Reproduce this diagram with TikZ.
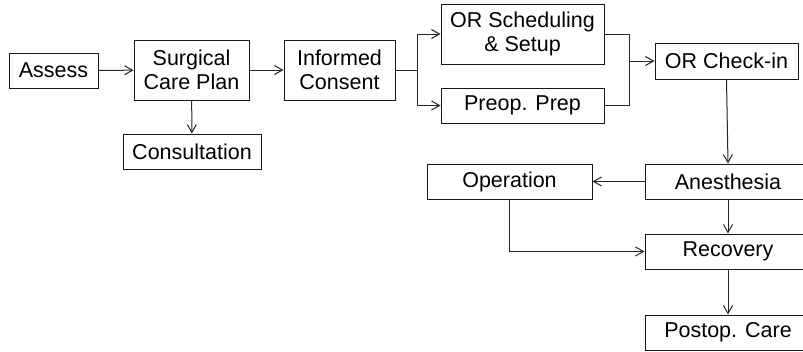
\documentclass[tikz,border=0pt]{standalone}
\usepackage{fontspec}
\setmainfont{Liberation Sans}
\usetikzlibrary{arrows.meta}
\begin{document}
\begin{tikzpicture}[x=1pt,y=-1pt,
  box/.style={draw=black!90,line width=1pt,inner sep=0pt,align=center,
    font=\fontsize{21.5}{23.5}\selectfont},
  conn/.style={draw=black!85,line width=1pt,-{Straight Barb[length=8pt,width=9pt,line width=1pt]}},
  wire/.style={draw=black!85,line width=1pt}]
\useasboundingbox (0,0) rectangle (803,351);
\clip (0,0) rectangle (803,351);
\fill[white] (0,0) rectangle (803,351);
\node[box,minimum width=89pt,minimum height=35pt] (assess) at (53.5,70.5) {Assess};
\node[box,minimum width=115pt,minimum height=60pt] (plan) at (191.5,70) {Surgical\\Care Plan};
\node[box,minimum width=138pt,minimum height=35pt] (consult) at (192,151.5) {Consultation};
\node[box,minimum width=111pt,minimum height=60pt] (consent) at (339.5,70) {Informed\\Consent};
\node[box,minimum width=163pt,minimum height=60pt] (sched) at (522.5,34) {OR Scheduling\\\& Setup};
\node[box,minimum width=163pt,minimum height=35pt] (preop) at (522.5,105.5) {Preop. Prep};
\node[box,minimum width=143pt,minimum height=36pt] (check) at (726.5,61) {OR Check-in};
\node[box,minimum width=166pt,minimum height=35pt] (anes) at (728,181.5) {Anesthesia};
\node[box,minimum width=165pt,minimum height=35pt] (oper) at (509.5,181.5) {Operation};
\node[box,minimum width=166pt,minimum height=35pt] (recov) at (728,251.5) {Recovery};
\node[box,minimum width=166pt,minimum height=35pt] (postop) at (728,332.5) {Postop. Care};
\coordinate (split) at (417,70);
\coordinate (merge) at (629,61);
\draw[conn] (assess) -- (plan);
\draw[conn] (plan) -- (consult);
\draw[conn] (plan) -- (consent);
\draw[wire] (consent.east) -- (split);
\draw[conn] (split) |- (sched.west);
\draw[conn] (split) |- (preop.west);
\draw[wire] (sched.east) -| (merge);
\draw[wire] (preop.east) -| (merge);
\draw[conn] (merge) -- (check.west);
\draw[conn] (check.south) -- (anes.north);
\draw[conn] (anes.west) -- (oper.east);
\draw[conn] (anes) -- (recov);
\draw[conn] (oper.south) |- (recov.west);
\draw[conn] (recov) -- (postop);
\end{tikzpicture}
\end{document}
